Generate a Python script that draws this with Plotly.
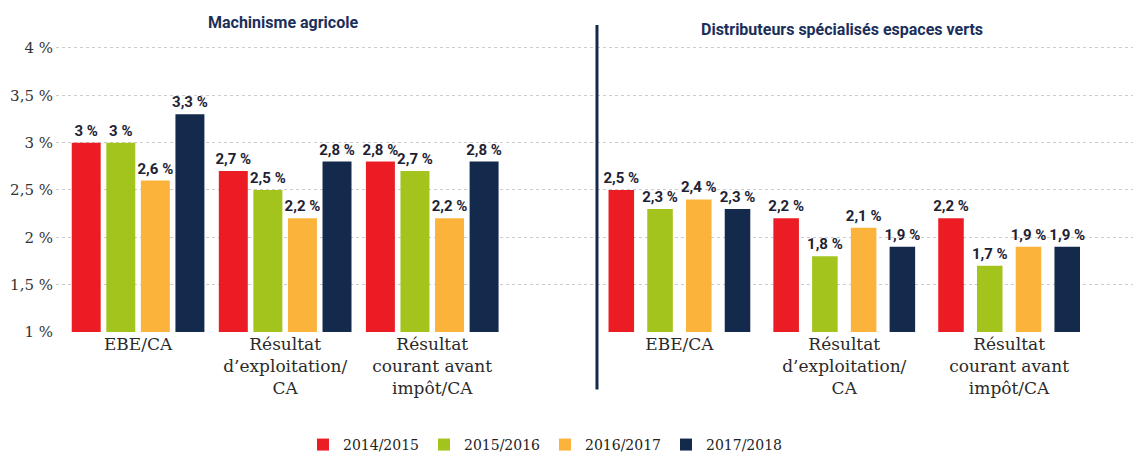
import plotly.graph_objects as go
from plotly.subplots import make_subplots

categories = ["EBE/CA", "Résultat<br>d’exploitation/<br>CA", "Résultat<br>courant avant<br>impôt/CA"]
periods = ["2014/2015", "2015/2016", "2016/2017", "2017/2018"]
colors = ["#ec1c24", "#a3c31d", "#fbb33b", "#142a4d"]

machinisme = {
    "2014/2015": [3.0, 2.7, 2.8],
    "2015/2016": [3.0, 2.5, 2.7],
    "2016/2017": [2.6, 2.2, 2.2],
    "2017/2018": [3.3, 2.8, 2.8],
}
espaces_verts = {
    "2014/2015": [2.5, 2.2, 2.2],
    "2015/2016": [2.3, 1.8, 1.7],
    "2016/2017": [2.4, 2.1, 1.9],
    "2017/2018": [2.3, 1.9, 1.9],
}

y_ticks = [1, 1.5, 2, 2.5, 3, 3.5, 4]
y_tick_labels = ["1 %", "1,5 %", "2 %", "2,5 %", "3 %", "3,5 %", "4 %"]

panel_titles = ["Machinisme agricole", "Distributeurs spécialisés espaces verts"]


def fmt(v):
    return f"{v:g}".replace(".", ",") + " %"


BOLD = "Roboto, Liberation Sans, sans-serif"
SERIF = "DejaVu Serif, Liberation Serif, serif"
LABEL_FONT = dict(family=BOLD, size=15, color="#1e2233")
SPLIT = 0.4986  # séparation entre les deux panneaux (fraction du graphique)

fig = make_subplots(rows=1, cols=2, shared_yaxes=True, horizontal_spacing=0,
                    column_widths=[SPLIT, 1 - SPLIT])

# largeur des barres différente selon le panneau (comme sur l'original)
bar_width = {1: 0.197, 2: 0.155}

for col, data in enumerate([machinisme, espaces_verts], start=1):
    for p, c in zip(periods, colors):
        fig.add_trace(
            go.Bar(
                x=categories, y=data[p], name=p,
                width=bar_width[col],
                marker=dict(color=c, line=dict(width=0)),
                text=[f"<b>{fmt(v)}</b>" for v in data[p]],
                textposition="outside", textfont=LABEL_FONT,
                constraintext="none", cliponaxis=False,
                showlegend=(col == 1),
            ),
            row=1, col=col,
        )

grid = dict(showgrid=True, gridcolor="#cccccc", griddash="dot", gridwidth=1)
fig.update_yaxes(range=[1, 4.2], tickvals=y_ticks, ticktext=y_tick_labels,
                 zeroline=False, automargin=False, **grid)
fig.update_yaxes(tickfont=dict(family=SERIF, size=15, color="#333333"),
                 ticklabelstandoff=2, row=1, col=1)
fig.update_xaxes(tickfont=dict(family=SERIF, size=17, color="#2a2a2a"),
                 showline=False, ticks="", automargin=False)
fig.update_xaxes(range=[-0.558, 3.12], row=1, col=1)
fig.update_xaxes(range=[-0.5, 2.8], row=1, col=2)

for t, xc, yc in zip(panel_titles, [0.209, 0.7244], [1.023, 0.997]):
    fig.add_annotation(
        text=f"<b>{t}</b>", x=xc, y=yc, xref="paper", yref="paper",
        showarrow=False, xanchor="center", yanchor="middle",
        font=dict(family=BOLD, size=16, color="#1b2f5a"),
    )

fig.add_shape(type="line", xref="paper", yref="paper", x0=SPLIT, x1=SPLIT, y0=-0.19, y1=1.013,
              line=dict(color="#142a4d", width=3))

fig.update_layout(
    width=1133, height=449,
    margin=dict(l=48, r=0, t=21, b=125, autoexpand=False),
    plot_bgcolor="white", paper_bgcolor="white",
    barmode="group", bargap=0.06, bargroupgap=0.0,
    legend=dict(orientation="h", x=0.4507, xanchor="center", y=-0.32, yanchor="top",
                font=dict(family=SERIF, size=14, color="#222222"), itemwidth=30,
                entrywidth=76, traceorder="normal"),
)

fig.write_html("out.html")
